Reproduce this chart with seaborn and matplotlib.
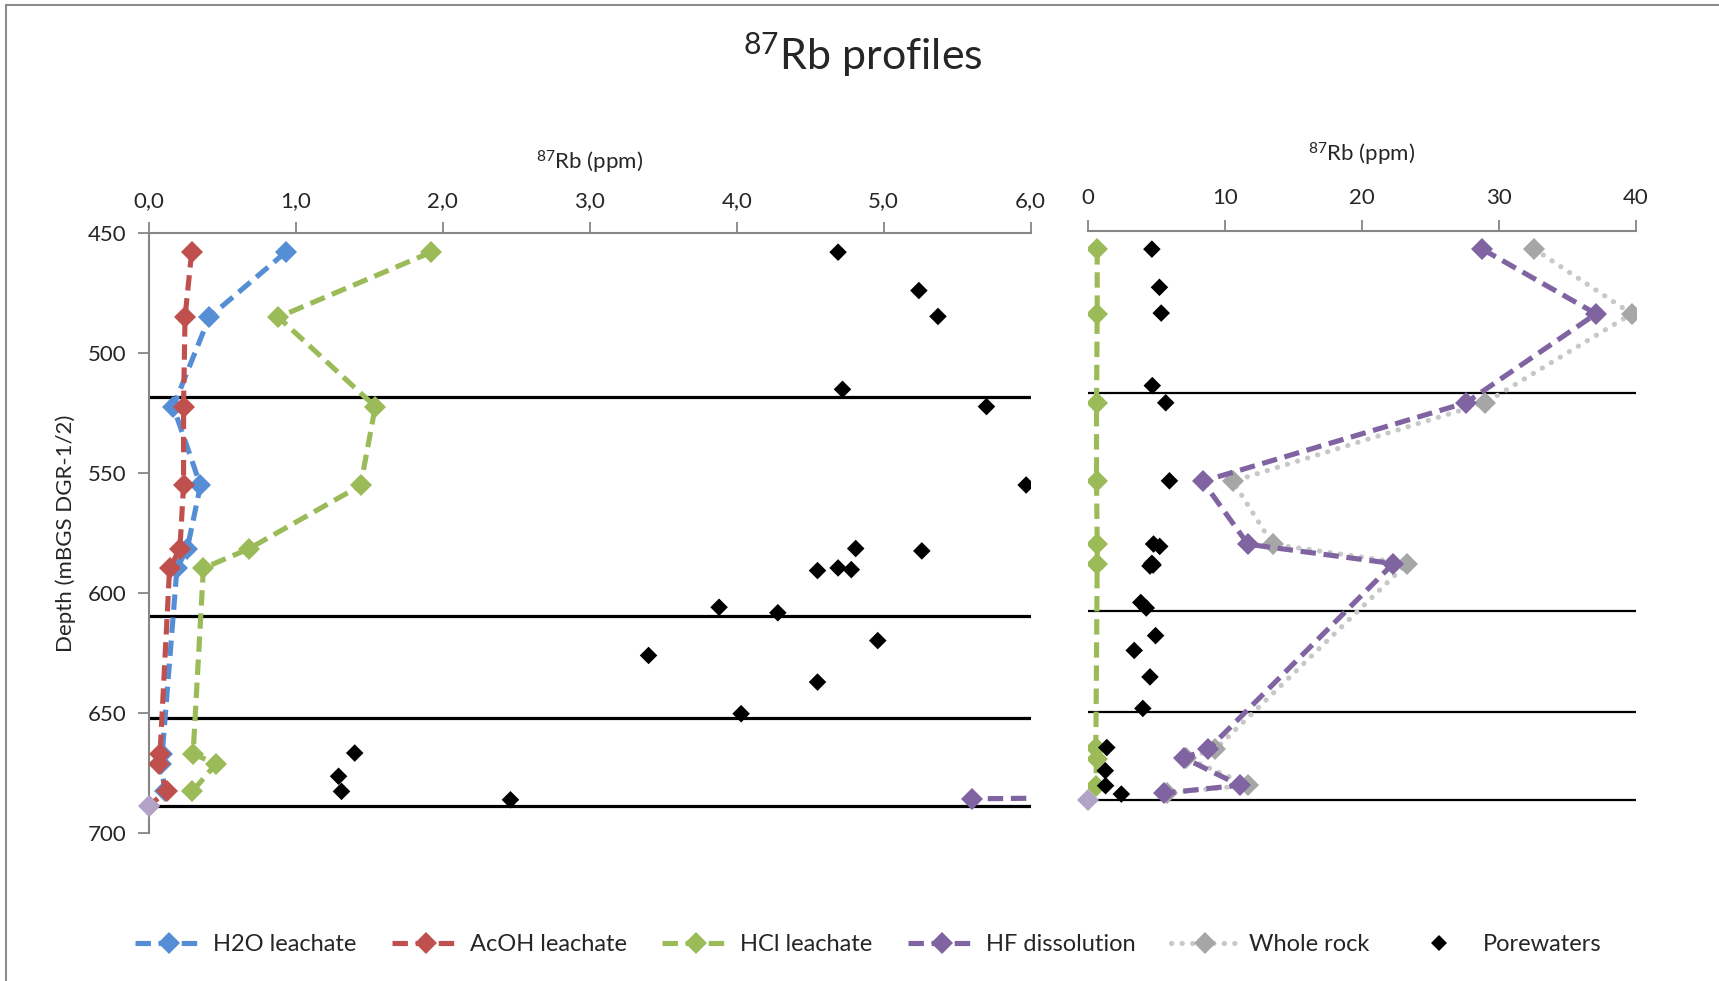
import matplotlib.pyplot as plt
import seaborn as sns
from matplotlib.lines import Line2D
from matplotlib.ticker import FuncFormatter

sns.set_theme(style="white")
plt.rcParams['font.family'] = ['Lato', 'DejaVu Sans']
plt.rcParams['mathtext.fontset'] = 'custom'
plt.rcParams['mathtext.rm'] = 'Lato'

# ---- data ----
# leachates, left panel
leach_depth = [457.8, 484.9, 522.2, 555.1, 581.5, 589.6, 667.0, 671.3, 682.7]
h2o = [0.93, 0.41, 0.165, 0.35, 0.26, 0.19, 0.09, 0.08, 0.11]
acoh = [0.29, 0.245, 0.235, 0.235, 0.21, 0.14, 0.075, 0.065, 0.12]
hcl = [1.92, 0.88, 1.54, 1.44, 0.68, 0.37, 0.30, 0.455, 0.295]
# last AcOH point, drawn in lavender
acoh_end_depth = 688.6
acoh_end = 0.0

# HCl as shown in the right panel
hcl_right = [0.7, 0.7, 0.65, 0.65, 0.7, 0.7, 0.6, 0.65, 0.6]

# HF dissolution and whole rock
solid_depth = [457.8, 484.9, 522.2, 555.1, 581.5, 589.6, 667.5, 671.0, 682.5, 685.8]
hf = [28.8, 37.1, 27.6, 8.4, 11.7, 22.3, 8.8, 7.0, 11.1, 5.6]
whole_rock = [32.6, 39.7, 29.0, 10.6, 13.5, 23.3, 9.3, 7.2, 11.7, 5.8]

# porewaters
pw_depth = [457.8, 473.8, 484.6, 515.0, 522.2, 554.9, 581.4, 582.4, 590.6, 589.5,
            590.2, 605.9, 608.2, 619.8, 626.0, 637.1, 650.3, 666.7, 676.4, 682.7, 686.2]
pw = [4.69, 5.24, 5.37, 4.72, 5.70, 5.97, 4.81, 5.26, 4.55, 4.69,
      4.78, 3.88, 4.28, 4.96, 3.40, 4.55, 4.03, 1.40, 1.29, 1.31, 2.46]

# formation boundaries
boundaries = [518.0, 609.5, 652.0, 688.6]

colors = {'H2O leachate': '#558ED5', 'AcOH leachate': '#C0504D',
          'HCl leachate': '#9BBB59', 'HF dissolution': '#8064A2',
          'Whole rock': '#A6A6A6', 'Porewaters': 'black'}
dot_grey = '#C8C8C8'
lavender = '#B3A2C7'
dash = (0, (3, 1.5))
dots = (0, (0.05, 2.0))
axis_grey = '#868686'
LW = 3.7
MS = 11

fig = plt.figure(figsize=(17.19, 9.81), dpi=100)
ax1 = fig.add_axes([0.0867, 0.151, 0.5128, 0.611])
ax2 = fig.add_axes([0.6327, 0.157, 0.3189, 0.608])


def profile(ax, x, y, name, ls=dash, lcolor=None, cap='butt'):
    sns.lineplot(x=x, y=y, sort=False, estimator=None, ax=ax,
                 color=lcolor or colors[name], linestyle=ls, linewidth=LW,
                 dash_capstyle=cap, marker='D', markersize=MS, markeredgewidth=0,
                 markerfacecolor=colors[name], zorder=3)


# ---- left panel ----
for d in boundaries:
    ax1.axhline(d, color='black', lw=2.3, zorder=2)
profile(ax1, h2o, leach_depth, 'H2O leachate')
profile(ax1, acoh + [acoh_end], leach_depth + [acoh_end_depth], 'AcOH leachate')
profile(ax1, hcl, leach_depth, 'HCl leachate')
profile(ax1, hf, solid_depth, 'HF dissolution')
sns.scatterplot(x=pw, y=pw_depth, ax=ax1, color='black', marker='D', s=80,
                edgecolor='none', zorder=4)
ax1.plot([acoh_end], [acoh_end_depth], 'D', ms=MS, mew=0, color=lavender,
         zorder=5, clip_on=False)

ax1.set_xlim(0, 6)
ax1.set_ylim(700, 450)
ax1.set_xticks(range(0, 7))
ax1.set_yticks(range(450, 701, 50))
ax1.xaxis.set_major_formatter(FuncFormatter(lambda v, p: f"{v:.1f}".replace('.', ',')))
ax1.xaxis.tick_top()
ax1.xaxis.set_label_position('top')
ax1.set_xlabel(r'$\mathregular{^{87}}$Rb (ppm)', fontsize=16, labelpad=16)
ax1.set_ylabel('Depth (mBGS DGR-1/2)', fontsize=16, labelpad=9)
ax1.tick_params(axis='both', direction='out', length=8, width=1.3,
                color=axis_grey, labelsize=16, pad=8)
ax1.tick_params(axis='x', top=True, bottom=False)
ax1.tick_params(axis='y', left=True)
for side in ['right', 'bottom']:
    ax1.spines[side].set_visible(False)
for side in ['left', 'top']:
    ax1.spines[side].set_color(axis_grey)
    ax1.spines[side].set_linewidth(1.5)

# ---- right panel ----
for d in boundaries:
    ax2.axhline(d, color='black', lw=1.6, zorder=2)
profile(ax2, hcl_right, leach_depth, 'HCl leachate')
profile(ax2, whole_rock, solid_depth, 'Whole rock', ls=dots, lcolor=dot_grey, cap='round')
profile(ax2, hf, solid_depth, 'HF dissolution')
sns.scatterplot(x=pw, y=pw_depth, ax=ax2, color='black', marker='D', s=80,
                edgecolor='none', zorder=4)
ax2.plot([acoh_end], [acoh_end_depth], 'D', ms=MS, mew=0, color=lavender,
         zorder=5, clip_on=False)

ax2.set_xlim(0, 40)
ax2.set_ylim(700, 450)
ax2.set_xticks(range(0, 41, 10))
ax2.set_yticks([])
ax2.xaxis.tick_top()
ax2.xaxis.set_label_position('top')
ax2.set_xlabel(r'$\mathregular{^{87}}$Rb (ppm)', fontsize=16, labelpad=19)
ax2.set_ylabel('')
ax2.tick_params(axis='x', direction='out', length=8, width=1.3, color=axis_grey,
                labelsize=16, pad=8, top=True, bottom=False)
for side in ['right', 'bottom', 'left']:
    ax2.spines[side].set_visible(False)
ax2.spines['top'].set_color(axis_grey)
ax2.spines['top'].set_linewidth(1.5)

# ---- title, legend, frame ----
fig.text(0.502, 0.944, r'$\mathregular{^{87}}$Rb profiles', ha='center', va='center',
         fontsize=31)

handles = []
for name in ['H2O leachate', 'AcOH leachate', 'HCl leachate', 'HF dissolution']:
    handles.append(Line2D([], [], color=colors[name], ls=dash, lw=LW, marker='D',
                          ms=MS, mew=0, label=name))
handles.append(Line2D([], [], color=dot_grey, ls=dots, lw=LW, dash_capstyle='round',
                      marker='D', ms=MS, mew=0, markerfacecolor=colors['Whole rock'],
                      label='Whole rock'))
handles.append(Line2D([], [], color='black', ls='none', marker='D', ms=8, mew=0,
                      label='Porewaters'))
fig.legend(handles=handles, loc='center', bbox_to_anchor=(0.505, 0.037), ncol=6,
           frameon=False, fontsize=17, handlelength=2.9, columnspacing=1.5,
           handletextpad=0.4)

fig.add_artist(Line2D([0.0032, 0.0032], [0, 0.9944], transform=fig.transFigure,
                      color='#8c8c8c', lw=1.5))
fig.add_artist(Line2D([0.0032, 1.0], [0.9944, 0.9944], transform=fig.transFigure,
                      color='#8c8c8c', lw=1.5))

fig.savefig('out.png', dpi=100)
